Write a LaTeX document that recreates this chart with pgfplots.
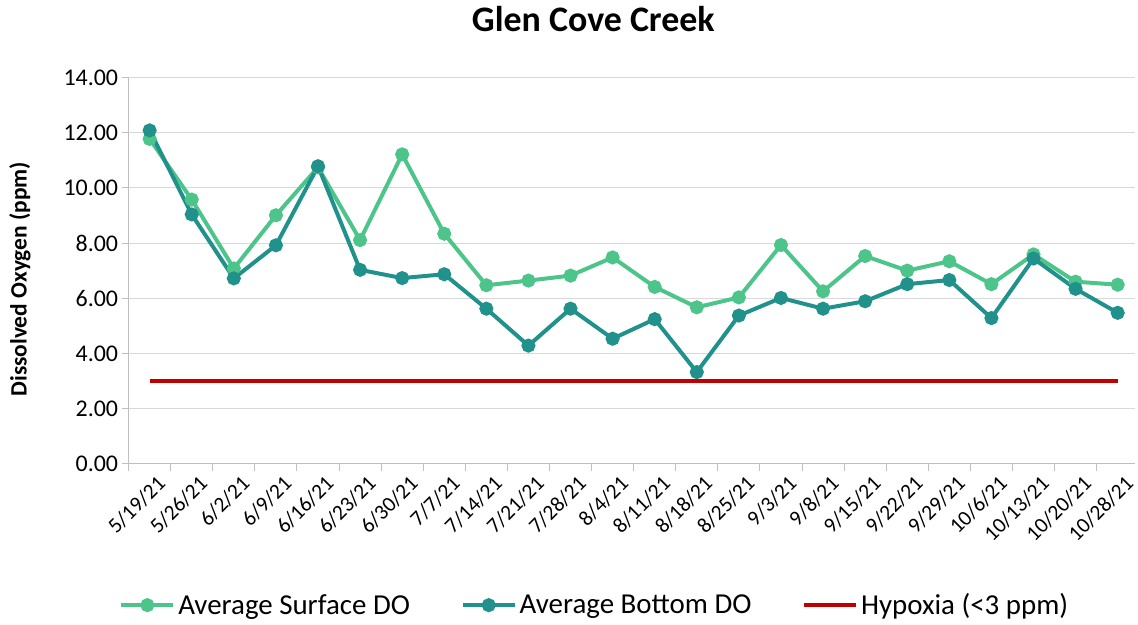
\documentclass[border=0pt]{standalone}
\usepackage{fontspec}
\setmainfont{Carlito}
\usepackage{pgfplots}
\pgfplotsset{compat=1.18}

\definecolor{surfgreen}{RGB}{77,196,137}
\definecolor{bottteal}{RGB}{33,145,140}
\definecolor{hypored}{RGB}{192,0,0}
\definecolor{gridc}{RGB}{217,217,217}
\definecolor{axc}{RGB}{191,191,191}

\begin{document}
\begin{tikzpicture}
\path (0pt,0pt) rectangle (1138pt,626pt);
\begin{axis}[
    at={(129pt,161pt)}, anchor=south west,
    scale only axis, width=1009pt, height=387pt,
    xmin=-0.5, xmax=23.4, ymin=0, ymax=14,
    axis x line=bottom, axis y line=left,
    axis line style={-, axc, line width=1pt},
    ytick={0,2,...,14},
    ymajorgrids, grid style={gridc, line width=1pt},
    xtick={0,...,23},
    xticklabels={5/19/21,5/26/21,6/2/21,6/9/21,6/16/21,6/23/21,6/30/21,7/7/21,7/14/21,7/21/21,7/28/21,8/4/21,8/11/21,8/18/21,8/25/21,9/3/21,9/8/21,9/15/21,9/22/21,9/29/21,10/6/21,10/13/21,10/20/21,10/28/21},
    minor xtick={-0.5,0.5,...,22.5},
    major x tick style={draw=none},
    minor tick length=7pt, major tick length=7pt,
    tick align=outside,
    tick style={axc, line width=1pt},
    yticklabel style={font=\fontsize{24}{28}\selectfont, /pgf/number format/.cd, fixed, fixed zerofill, precision=2, assume math mode=true},
    xticklabel style={font=\fontsize{21.5}{25}\selectfont, rotate=45, anchor=north east, inner sep=2pt, xshift=4pt, yshift=-5pt},
    ylabel={\bfseries Dissolved Oxygen (ppm)},
    ylabel style={font=\fontsize{23.5}{27}\selectfont, at={(axis description cs:-0.108,0.478)}, anchor=center},
    title={\bfseries Glen Cove Creek},
    title style={font=\fontsize{36}{42}\selectfont, at={(axis description cs:0.462,1.137)}, anchor=center},
    legend columns=3,
    legend style={at={(axis description cs:0.463,-0.367)}, anchor=center, draw=none, fill=none,
        font=\fontsize{29}{33}\selectfont, column sep=2pt,
        nodes={inner xsep=1pt},
        /tikz/every even column/.append style={column sep=50pt}},
    legend image code/.code={\draw[mark repeat=2, mark phase=2] plot coordinates {(0pt,0pt) (26pt,0pt) (52pt,0pt)};},
]
\addplot[surfgreen, line width=4pt, mark=*, mark size=5pt, mark options={solid, fill=surfgreen}] coordinates {
    (0,11.78)(1,9.58)(2,7.08)(3,9.01)(4,10.75)(5,8.11)(6,11.22)(7,8.34)
    (8,6.47)(9,6.64)(10,6.82)(11,7.48)(12,6.41)(13,5.67)(14,6.03)(15,7.93)
    (16,6.25)(17,7.53)(18,7.00)(19,7.34)(20,6.51)(21,7.59)(22,6.60)(23,6.49)
};
\addlegendentry{Average Surface DO}
\addplot[bottteal, line width=4pt, mark=*, mark size=5pt, mark options={solid, fill=bottteal}] coordinates {
    (0,12.09)(1,9.04)(2,6.72)(3,7.92)(4,10.79)(5,7.03)(6,6.73)(7,6.87)
    (8,5.62)(9,4.28)(10,5.62)(11,4.53)(12,5.24)(13,3.32)(14,5.37)(15,6.01)
    (16,5.62)(17,5.89)(18,6.51)(19,6.66)(20,5.28)(21,7.44)(22,6.34)(23,5.47)
};
\addlegendentry{Average Bottom DO}
\addplot[hypored, line width=4pt, mark=none] coordinates {
    (0,3)(1,3)(2,3)(3,3)(4,3)(5,3)(6,3)(7,3)(8,3)(9,3)(10,3)(11,3)
    (12,3)(13,3)(14,3)(15,3)(16,3)(17,3)(18,3)(19,3)(20,3)(21,3)(22,3)(23,3)
};
\addlegendentry{Hypoxia (<3 ppm)}
\end{axis}
\end{tikzpicture}
\end{document}
